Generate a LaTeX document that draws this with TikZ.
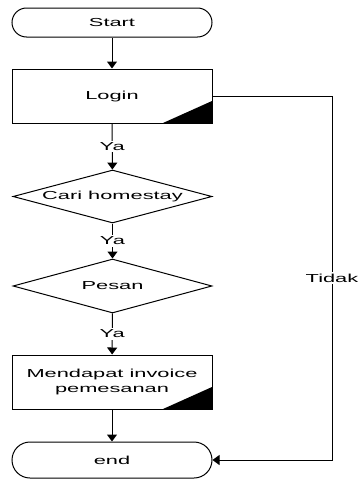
\documentclass[tikz,border=0pt]{standalone}
\usepackage{fontspec}
\setmainfont{Liberation Sans}[FakeStretch=1.88]
\usetikzlibrary{shapes, shapes.geometric, arrows, arrows.meta}

\begin{document}
\begin{tikzpicture}[x=1pt, y=-1pt,
        font=\fontsize{11.6}{15}\selectfont,
        terminal/.style={draw, rounded rectangle, minimum width=200pt, inner sep=0pt, line width=1pt},
        process/.style={draw, minimum width=200pt, minimum height=54pt, inner sep=0pt, align=center, line width=1pt,
            path picture={\fill (path picture bounding box.south east) -- ++(-49pt,0pt) -- ++(49pt,22pt) -- cycle;}},
        decision/.style={draw, diamond, aspect=3.75, minimum width=199pt, minimum height=53pt, inner sep=0pt, line width=1pt},
        flow/.style={-{Triangle[width=10pt,length=7pt]}, line width=1pt},
        cond/.style={fill=white, inner sep=1.5pt}]
    \useasboundingbox (0,0) rectangle (358,479);

    \node[terminal, minimum height=29pt] (start) at (112, 22.5) {Start};
    \node[process] (login) at (112, 96) {Login};
    \node[decision] (cari) at (112.5, 196.5) {Cari homestay};
    \node[decision, minimum height=54pt] (pesan) at (112.5, 286) {Pesan};
    \node[process] (invoice) at (112, 382) {Mendapat invoice\\pemesanan};
    \node[terminal, minimum height=36pt] (end) at (112, 460) {end};

    \coordinate (c1) at (332, 96);
    \coordinate (c2) at (332, 460);

    \draw[flow] (start) -- (login);
    \draw[flow] (login) -- node[cond] {Ya} (cari);
    \draw[flow] (cari) -- node[cond] {Ya} (pesan);
    \draw[flow] (pesan) -- node[cond] {Ya} (invoice);
    \draw[flow] (invoice) -- (end);
    \draw[flow] (login.east) -- (c1) -- node[cond] {Tidak} (c2) -- (end.east);
\end{tikzpicture}
\end{document}
